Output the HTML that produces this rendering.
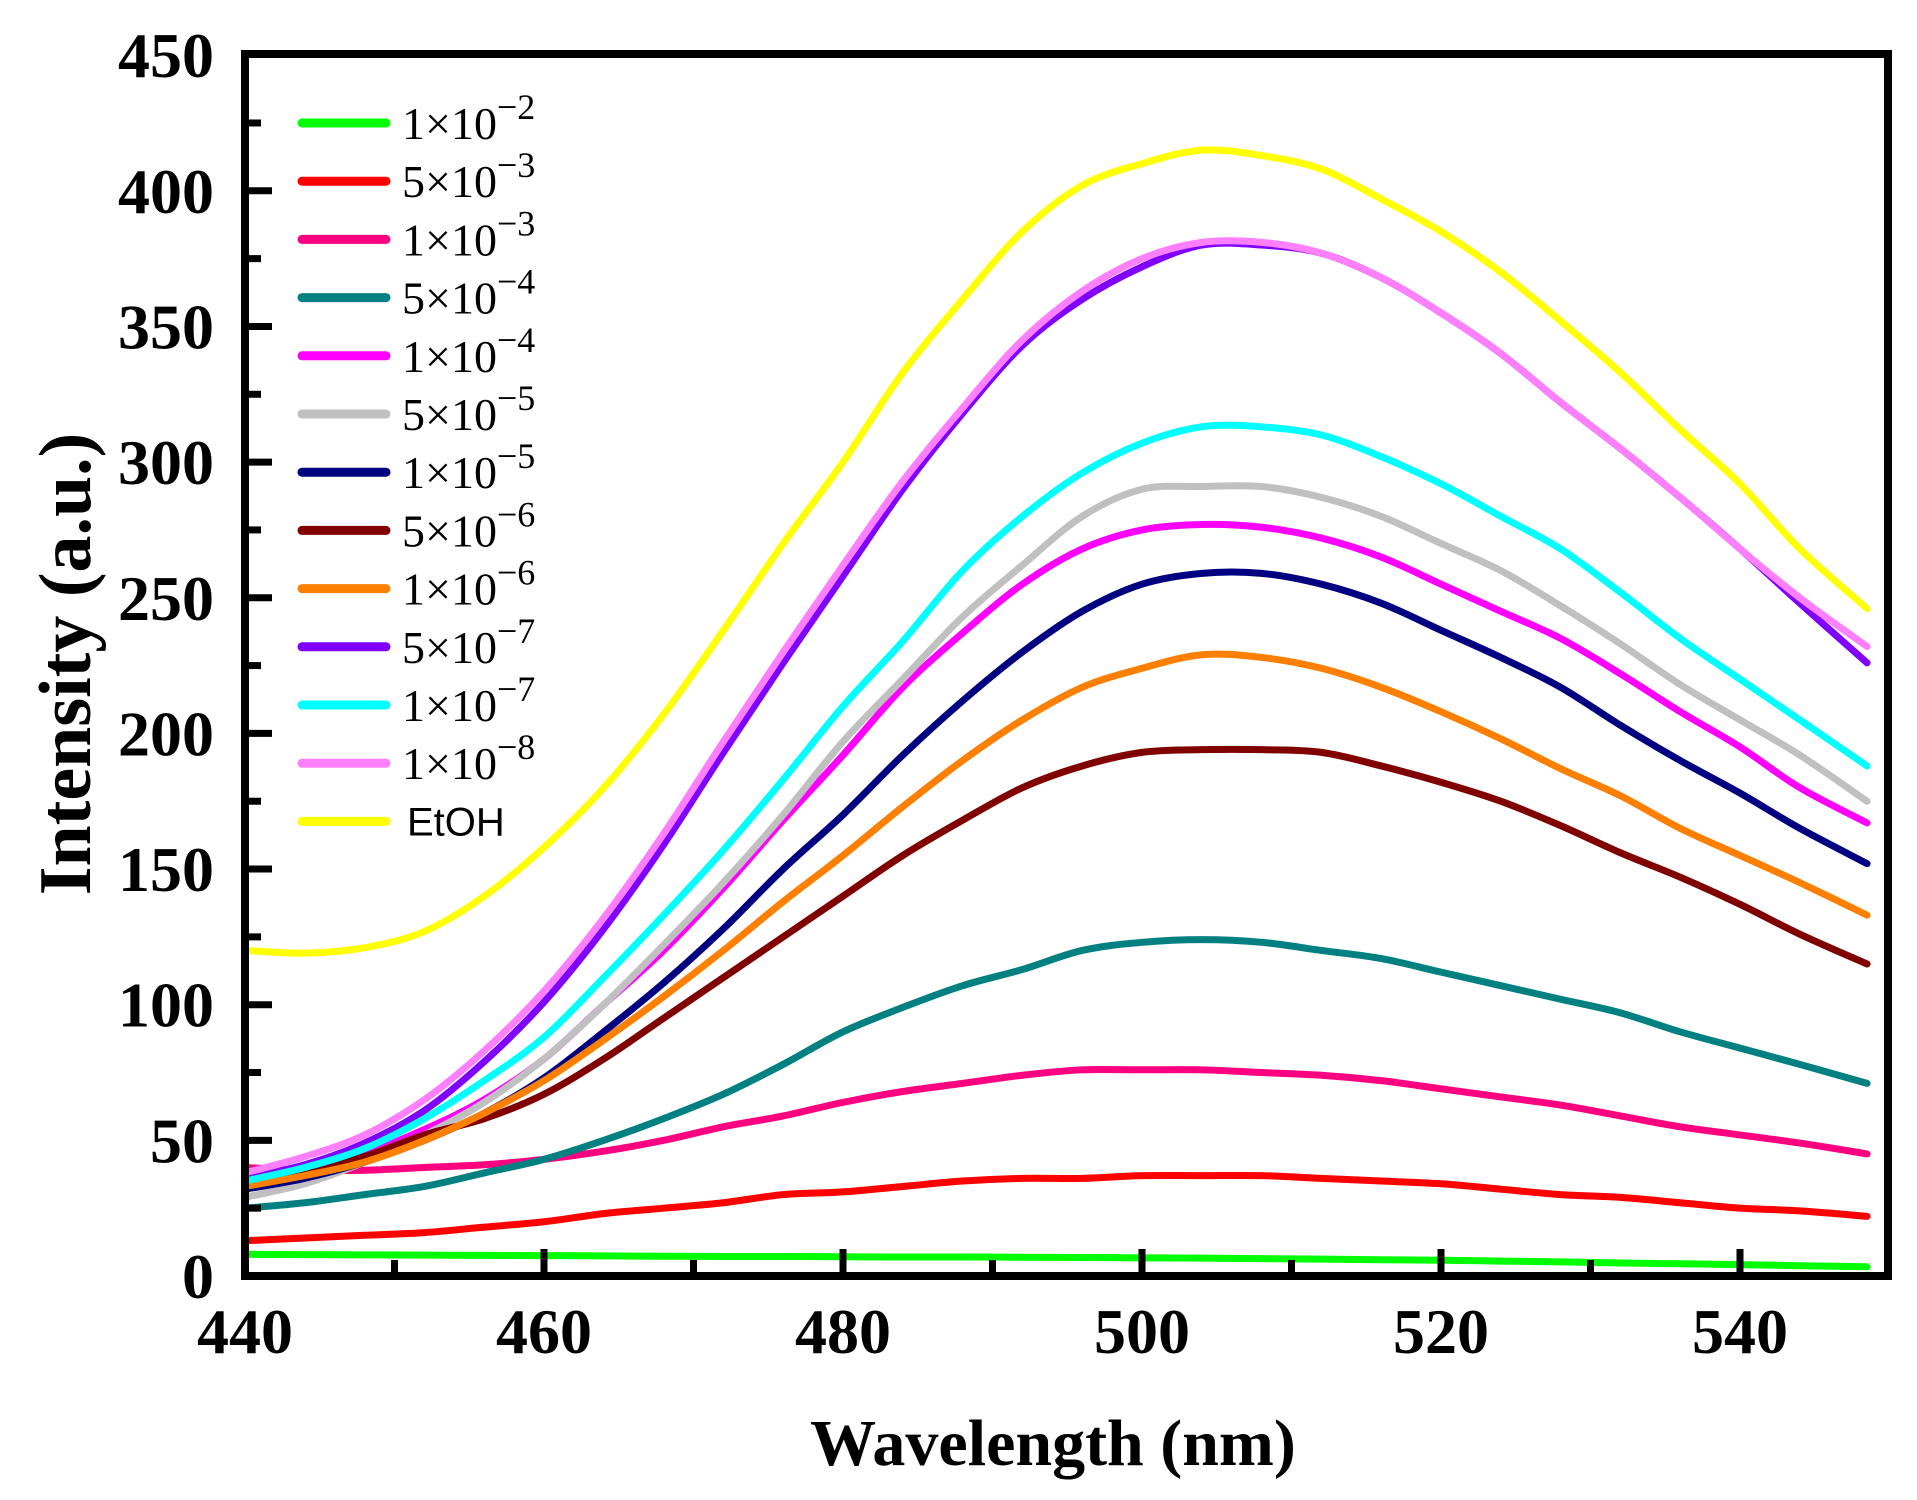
<!DOCTYPE html>
<html><head><meta charset="utf-8"><style>
html,body{margin:0;padding:0;background:#fff;}
svg{display:block;}
</style></head><body>
<svg id="s" width="1917" height="1500" xmlns="http://www.w3.org/2000/svg">
<g id="curves" fill="none" stroke-width="7" stroke-linejoin="round" stroke-linecap="round"></g>
<rect x="245" y="54" width="1643" height="1222" fill="none" stroke="#000" stroke-width="8"/>
<g id="ticks" stroke="#000" stroke-width="7"></g>
<g id="labels" font-family="Liberation Serif, serif" font-weight="bold" font-size="64" fill="#000"></g>
<text x="1053" y="1465" text-anchor="middle" font-family="Liberation Serif, serif" font-weight="bold" font-size="66">Wavelength (nm)</text>
<text transform="translate(90,664) rotate(-90)" text-anchor="middle" font-family="Liberation Serif, serif" font-weight="bold" font-size="74">Intensity (a.u.)</text>
<g id="legend"></g>
</svg>
<script>
var NS="http://www.w3.org/2000/svg";
function X(w){return 245+(w-440)*14.95;}
function Y(v){return 1276-2.713*v;}
function el(t,a,p,txt){var e=document.createElementNS(NS,t);for(var k in a)e.setAttribute(k,a[k]);if(txt!==undefined)e.textContent=txt;p.appendChild(e);return e;}
var T=document.getElementById('ticks'),L=document.getElementById('labels');
for(var v=0;v<=450;v+=25){var maj=v%50==0;if(v>0&&v<450)el('line',{x1:245,x2:245+(maj?27:16),y1:Y(v),y2:Y(v)},T);
 if(maj)el('text',{x:214,y:Y(v)+22,'text-anchor':'end'},L,String(v));}
for(var w=440;w<=549;w+=10){var maj=(w-440)%20==0;if(w>440)el('line',{x1:X(w),x2:X(w),y1:1276,y2:1276-(maj?27:16)},T);
 if(maj)el('text',{x:X(w),y:1353,'text-anchor':'middle'},L,String(w));}
var xs=[440,444,448,452,456,460,464,468,472,476,480,484,488,492,496,500,504,508,512,516,520,524,528,532,536,540,544,548.5];
var S=[
['#00ff00','1×10','−2',[8,7.9,7.8,7.7,7.6,7.5,7.4,7.3,7.2,7.2,7.1,7,7,6.9,6.8,6.7,6.6,6.4,6.2,6,5.8,5.5,5.2,4.8,4.5,4.2,3.8,3.4]],
['#ff0000','5×10','−3',[13,14,15,16,18,20,23,25,27,30,31,33,35,36,36,37,37,37,36,35,34,32,30,29,27,25,24,22]],
['#ff0080','1×10','−3',[40,39,39,40,41,43,46,50,55,59,64,68,71,74,76,76,76,75,74,72,69,66,63,59,55,52,49,45]],
['#008080','5×10','−4',[25,27,30,33,38,43,50,58,67,78,90,99,107,113,120,123,124,123,120,117,112,107,102,97,90,84,78,71]],
['#ff00ff','1×10','−4',[33,38,45,54,65,80,100,120,143,168,192,217,237,255,268,275,277,276,272,265,255,245,235,222,208,195,180,167]],
['#c0c0c0','5×10','−5',[29,34,42,52,64,80,100,122,145,170,197,220,243,262,280,290,291,291,287,280,270,260,247,233,218,205,192,175]],
['#000080','1×10','−5',[32,36,42,50,60,73,90,108,128,150,170,192,212,230,245,255,259,259,255,248,238,228,217,203,190,178,165,152]],
['#800000','5×10','−6',[34,38,44,52,58,67,80,95,110,125,140,155,168,180,188,193,194,194,193,188,182,175,166,156,147,137,126,115]],
['#ff8000','1×10','−6',[33,37,42,50,60,72,87,103,120,138,155,173,190,205,217,224,229,228,224,217,208,198,187,177,165,155,145,133]],
['#8000ff','5×10','−7',[36,41,49,61,79,101,128,159,193,226,258,290,318,343,360,372,380,380,377,368,355,340,322,305,287,268,248,226]],
['#00ffff','1×10','−7',[35,40,47,58,72,88,110,133,157,183,210,234,260,280,296,307,313,313,310,302,292,280,268,252,235,220,205,188]],
['#ff80ff','1×10','−8',[38,44,52,65,83,105,132,163,197,230,262,293,320,345,363,375,381,381,377,368,355,340,322,305,287,268,250,232]],
['#ffff00','EtOH','',[120,119,121,127,140,158,180,207,238,270,300,333,360,385,402,410,415,413,408,397,385,370,352,333,312,292,268,246]]
];
var C=document.getElementById('curves'),G=document.getElementById('legend');
S.forEach(function(s,i){
 var p=xs.map(function(w,j){return [X(w),Y(s[3][j])];});
 var d='M'+p[0][0]+','+p[0][1];
 for(var k=0;k<p.length-1;k++){var p0=p[k-1]||p[k],p1=p[k],p2=p[k+1],p3=p[k+2]||p2;
  d+=' C'+(p1[0]+(p2[0]-p0[0])/6)+','+(p1[1]+(p2[1]-p0[1])/6)+' '+(p2[0]-(p3[0]-p1[0])/6)+','+(p2[1]-(p3[1]-p1[1])/6)+' '+p2[0]+','+p2[1];}
 el('path',{d:d,stroke:s[0]},C);
 var y=123+i*58.2;
 el('line',{x1:302,x2:386,y1:y,y2:y,stroke:s[0],'stroke-width':9,'stroke-linecap':'round'},G);
 if(s[1]=='EtOH'){el('text',{x:407,y:y+14,'font-family':'Liberation Sans, sans-serif','font-size':40},G,'EtOH');}
 else{var t=el('text',{x:402,y:y+16,'font-family':'Liberation Serif, serif','font-size':46},G);
  el('tspan',{},t,s[1]);el('tspan',{dy:-20,'font-size':36},t,s[2]);}
});
</script>
</body></html>
